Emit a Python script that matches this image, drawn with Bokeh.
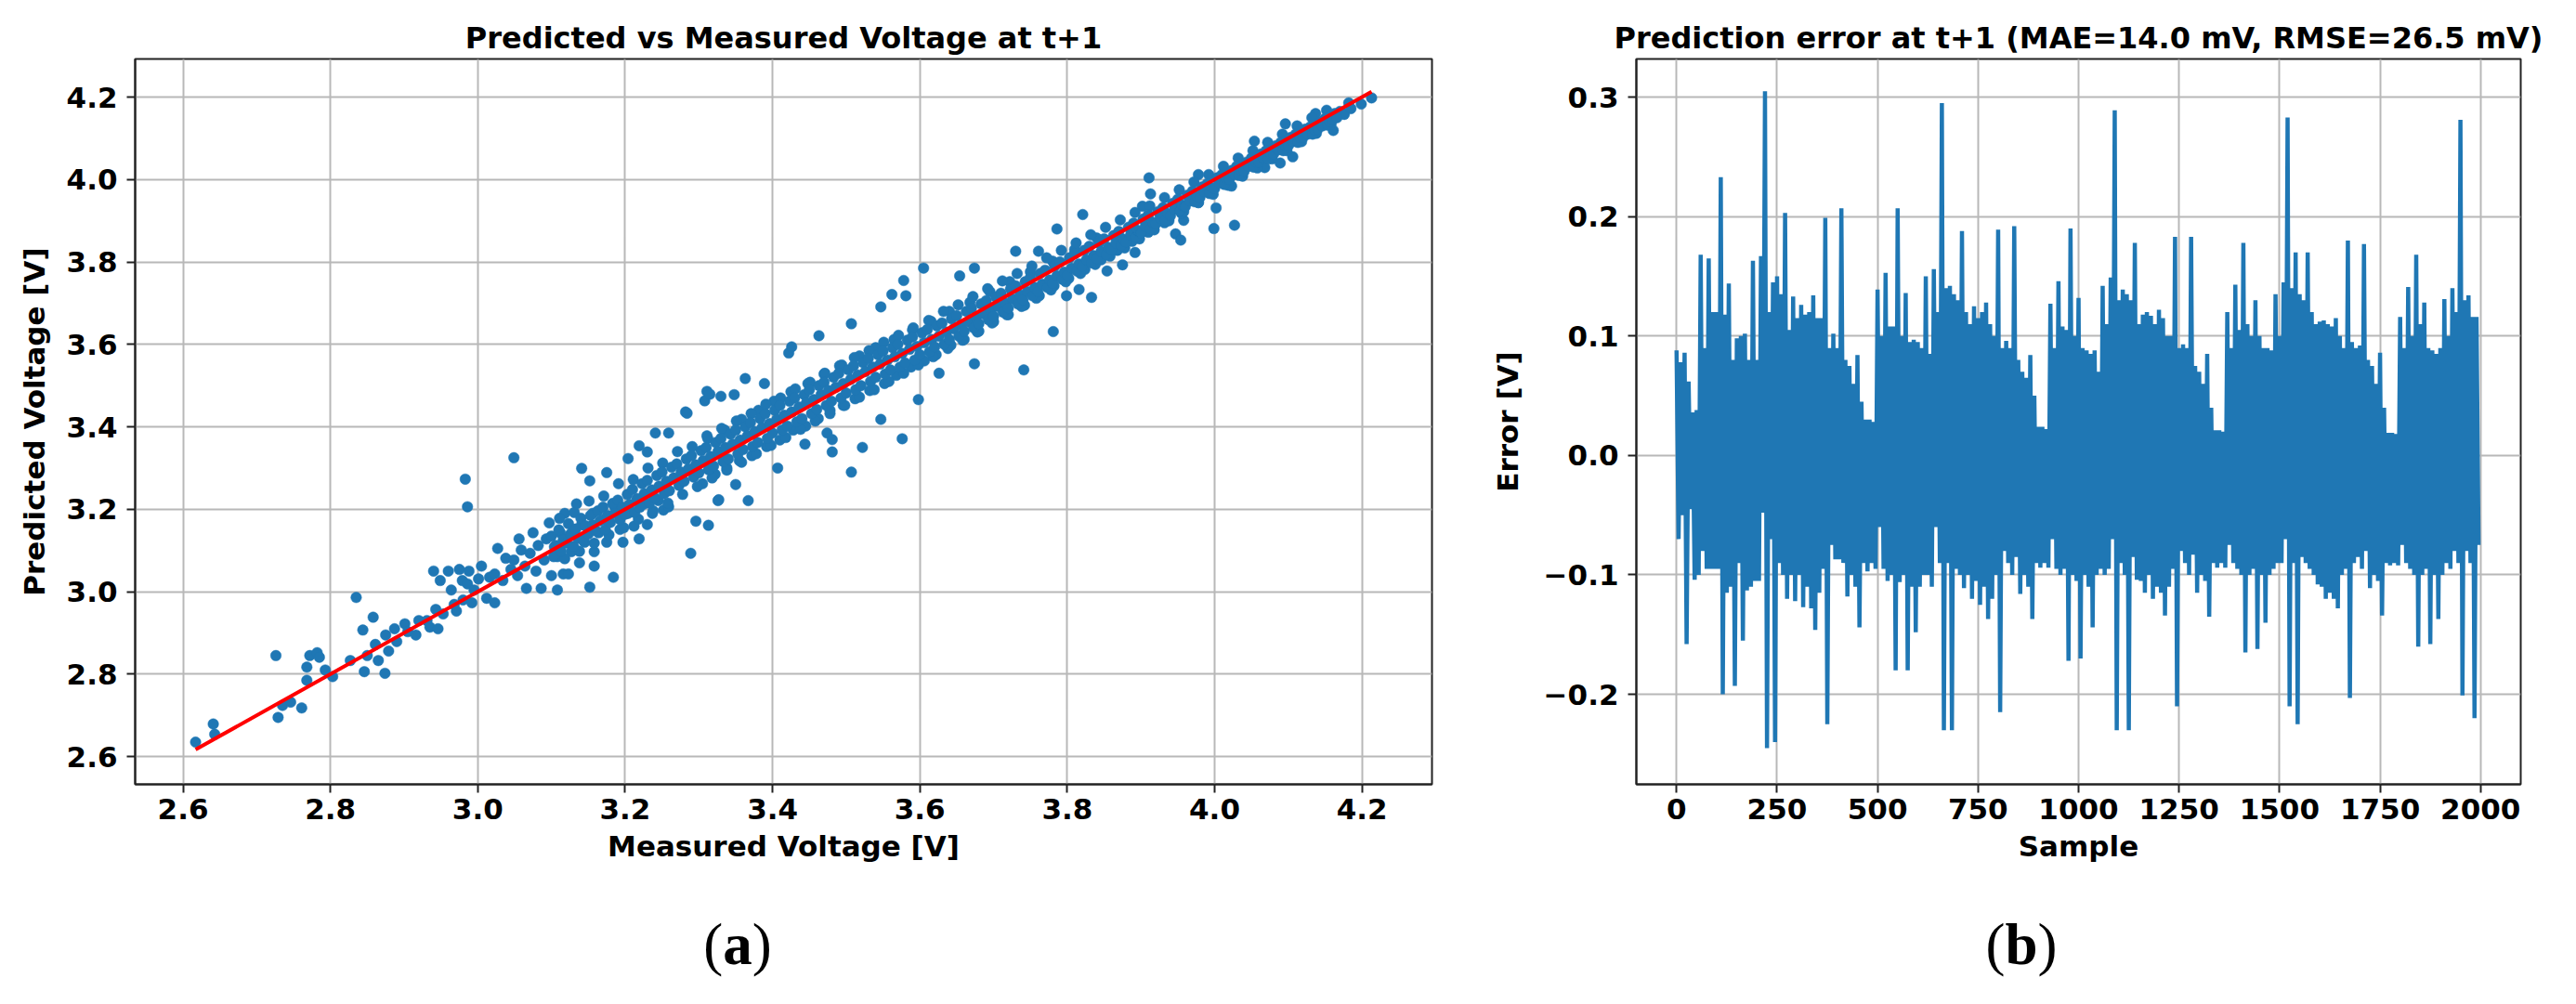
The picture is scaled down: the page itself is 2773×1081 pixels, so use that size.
from bokeh.plotting import figure
from bokeh.models import FixedTicker, CustomJSTickFormatter, Range1d, Div
from bokeh.layouts import row, column
from bokeh.embed import file_html
from bokeh.resources import INLINE

# ---------------- data: panel (a) ----------------
# sparse / outlying points (measured, predicted)
meas_sparse = [
    2.617, 2.641, 2.643, 2.726, 2.729, 2.735, 2.746, 2.761, 2.768, 2.768,
    2.772, 2.782, 2.785, 2.793, 2.803, 2.835, 2.827, 2.844, 2.846, 2.850,
    2.858, 2.861, 2.865, 2.874, 2.875, 2.879, 2.887, 2.890, 2.901, 2.905,
    2.916, 2.920, 2.931, 2.935, 2.943, 2.946, 2.940, 2.949, 2.953, 2.960,
    2.964, 2.968, 2.971, 2.975, 2.979, 2.980, 2.986, 2.988, 2.992, 2.995,
    3.001, 3.005, 3.012, 3.023, 3.016, 3.023, 3.027, 3.034, 3.038, 3.045,
    3.049, 3.054, 3.056, 3.059, 3.064, 3.066, 3.071, 3.075, 3.079, 3.082,
    3.086, 3.090, 3.093, 3.097, 3.100, 3.104, 3.108, 3.108, 3.112, 3.116,
    3.118, 3.119, 3.123, 3.127, 3.130, 3.134, 3.138, 3.141, 3.145, 3.152,
    3.156, 3.158, 3.158, 3.164, 3.171, 3.175, 3.184, 3.186, 3.193, 3.197,
    3.204, 3.212, 3.219, 3.226, 3.230, 3.237, 3.245, 3.252, 3.259, 3.289,
    3.296, 3.313, 3.326, 3.367, 2.986, 2.983, 3.049, 3.141, 3.152, 3.175,
    3.204, 3.219, 3.230, 3.241, 3.259, 3.282, 3.308, 3.311, 3.330, 3.348,
    3.363, 3.389, 3.422, 3.426, 3.463, 3.444, 3.481, 3.407, 3.474, 4.213,
    4.199, 4.182, 4.175, 4.161, 4.137, 4.096, 4.106, 4.089, 4.068, 4.054,
    4.023, 4.002, 4.027, 3.999, 3.978, 3.947, 3.954, 3.958, 3.911, 3.913,
    3.902, 3.906, 3.892, 3.875, 3.854, 3.821, 3.833, 3.816, 3.799, 3.781,
    3.786, 3.761, 3.730, 3.741, 3.674, 3.654, 3.605, 3.578, 3.581, 3.562,
    3.547, 3.507, 3.315, 3.284, 3.674, 3.626, 3.547, 3.576, 3.522, 3.507,
    3.481, 3.327, 3.350, 3.598, 4.170, 4.176, 4.185,
]
pred_sparse = [
    2.635, 2.679, 2.654, 2.845, 2.695, 2.724, 2.732, 2.718, 2.817, 2.785,
    2.845, 2.852, 2.841, 2.810, 2.794, 2.986, 2.833, 2.907, 2.806, 2.845,
    2.938, 2.872, 2.833, 2.802, 2.895, 2.856, 2.910, 2.879, 2.922, 2.903,
    2.895, 2.930, 2.930, 2.914, 2.957, 2.910, 3.050, 3.027, 2.946, 3.050,
    3.004, 2.969, 2.953, 3.054, 3.027, 2.980, 3.019, 3.050, 2.973, 3.004,
    3.031, 3.062, 2.984, 2.973, 3.035, 3.043, 3.105, 3.027, 3.081, 3.054,
    3.077, 3.039, 3.128, 3.101, 3.062, 3.008, 3.093, 3.143, 3.050, 3.112,
    3.008, 3.077, 3.128, 3.167, 3.039, 3.109, 3.004, 3.085, 3.143, 3.043,
    3.190, 3.128, 3.043, 3.097, 3.151, 3.213, 3.070, 3.163, 3.120, 3.011,
    3.190, 3.097, 3.062, 3.143, 3.175, 3.120, 3.035, 3.206, 3.151, 3.120,
    3.190, 3.159, 3.128, 3.213, 3.163, 3.190, 3.221, 3.198, 3.206, 3.093,
    3.171, 3.161, 3.221, 3.221, 3.206, 3.273, 3.325, 3.299, 3.269, 3.289,
    3.323, 3.354, 3.339, 3.385, 3.385, 3.436, 3.463, 3.486, 3.474, 3.478,
    3.517, 3.505, 3.579, 3.594, 3.621, 3.358, 3.339, 3.300, 3.385, 4.198,
    4.183, 4.186, 4.160, 4.119, 4.160, 4.135, 4.055, 4.040, 4.029, 4.093,
    3.984, 3.931, 3.889, 3.881, 4.012, 3.868, 3.853, 3.901, 4.004, 3.965,
    3.935, 3.879, 3.823, 3.793, 3.778, 3.915, 3.714, 3.733, 3.718, 3.631,
    3.880, 3.826, 3.826, 3.538, 3.785, 3.766, 3.785, 3.755, 3.718, 3.721,
    3.691, 3.650, 3.479, 3.433, 3.553, 3.530, 3.418, 3.371, 3.350, 3.290,
    3.369, 3.223, 3.260, 3.466, 4.165, 4.158, 4.172,
]
# edges of the dense band
meas_edge = [
    3.305, 3.322, 3.338, 3.355, 3.372, 3.392, 3.410, 3.428, 3.445, 3.462,
    3.478, 3.496, 3.512, 3.532, 3.552, 3.568, 3.588, 3.606, 3.622, 3.642,
    3.660, 3.680, 3.700, 3.720, 3.742, 3.762, 3.782, 3.802, 3.824, 3.846,
    3.868, 3.888, 3.910, 3.932, 3.955, 3.978,
    3.312, 3.335, 3.358, 3.381, 3.402, 3.425, 3.448, 3.470, 3.494, 3.518,
    3.540, 3.565, 3.590, 3.615, 3.640, 3.668, 3.695, 3.722, 3.750, 3.780,
    3.810, 3.840,
]
pred_edge = [
    3.262, 3.285, 3.300, 3.318, 3.330, 3.352, 3.368, 3.392, 3.402, 3.420,
    3.440, 3.452, 3.468, 3.488, 3.505, 3.525, 3.545, 3.560, 3.575, 3.598,
    3.612, 3.632, 3.655, 3.672, 3.695, 3.718, 3.742, 3.760, 3.782, 3.805,
    3.828, 3.850, 3.872, 3.895, 3.918, 3.944,
    3.372, 3.392, 3.418, 3.440, 3.462, 3.485, 3.505, 3.528, 3.550, 3.572,
    3.592, 3.612, 3.635, 3.656, 3.680, 3.702, 3.728, 3.752, 3.776, 3.802,
    3.830, 3.858,
]
# upper and lower rims of the band
meas_rim_up = [
    3.111, 3.131, 3.151, 3.171, 3.191, 3.211, 3.231, 3.251, 3.271, 3.291,
    3.311, 3.331, 3.351, 3.371, 3.391, 3.411, 3.431, 3.451, 3.471, 3.491,
    3.511, 3.531, 3.551, 3.571, 3.591, 3.612, 3.632, 3.652, 3.672, 3.692,
    3.712, 3.732, 3.752, 3.772, 3.792, 3.812, 3.832, 3.852, 3.872, 3.892,
    3.912, 3.932, 3.952, 3.972, 3.992, 4.012, 4.032, 4.052, 4.072, 4.092,
    4.112, 4.132, 4.152,
]
pred_rim_up = [
    3.178, 3.192, 3.220, 3.232, 3.262, 3.272, 3.300, 3.312, 3.340, 3.352,
    3.378, 3.396, 3.414, 3.432, 3.455, 3.470, 3.492, 3.508, 3.530, 3.548,
    3.568, 3.585, 3.605, 3.622, 3.640, 3.658, 3.680, 3.696, 3.716, 3.735,
    3.754, 3.772, 3.790, 3.810, 3.828, 3.846, 3.866, 3.884, 3.902, 3.920,
    3.936, 3.956, 3.975, 3.994, 4.012, 4.032, 4.052, 4.070, 4.090, 4.110,
    4.130, 4.150, 4.168,
]
meas_rim_down = [
    3.118, 3.138, 3.158, 3.178, 3.198, 3.218, 3.238, 3.258, 3.278, 3.298,
    3.318, 3.338, 3.358, 3.378, 3.398, 3.418, 3.438, 3.458, 3.478, 3.498,
    3.518, 3.538, 3.558, 3.578, 3.598, 3.618, 3.638, 3.658, 3.678, 3.698,
    3.718, 3.738, 3.758, 3.778, 3.798, 3.818, 3.838, 3.858, 3.878, 3.898,
    3.918, 3.938, 3.958, 3.978, 3.998, 4.018, 4.038, 4.058, 4.078, 4.098,
    4.118, 4.138, 4.158,
]
pred_rim_down = [
    3.080, 3.098, 3.118, 3.138, 3.155, 3.176, 3.196, 3.215, 3.236, 3.255,
    3.276, 3.295, 3.314, 3.335, 3.355, 3.374, 3.394, 3.414, 3.432, 3.452,
    3.472, 3.490, 3.510, 3.530, 3.550, 3.570, 3.590, 3.610, 3.630, 3.652,
    3.672, 3.692, 3.712, 3.732, 3.752, 3.772, 3.794, 3.814, 3.834, 3.856,
    3.878, 3.900, 3.922, 3.944, 3.964, 3.986, 4.008, 4.028, 4.050, 4.070,
    4.092, 4.112, 4.134,
]
# dense core of the cloud
meas_core = [
    3.100, 3.103, 3.106, 3.110, 3.113, 3.116, 3.120, 3.123, 3.126,
    3.130, 3.133, 3.136, 3.140, 3.143, 3.146, 3.150, 3.153, 3.156,
    3.160, 3.163, 3.166, 3.170, 3.173, 3.176, 3.180, 3.183, 3.186,
    3.190, 3.193, 3.196, 3.200, 3.203, 3.206, 3.210, 3.213, 3.216,
    3.220, 3.223, 3.226, 3.230, 3.233, 3.236, 3.240, 3.243, 3.246,
    3.250, 3.253, 3.256, 3.260, 3.263, 3.266, 3.270, 3.273, 3.276,
    3.280, 3.283, 3.286, 3.290, 3.293, 3.296, 3.300, 3.303, 3.306,
    3.310, 3.313, 3.316, 3.320, 3.323, 3.326, 3.330, 3.333, 3.336,
    3.340, 3.343, 3.346, 3.350, 3.353, 3.356, 3.360, 3.363, 3.366,
    3.370, 3.373, 3.376, 3.380, 3.383, 3.386, 3.390, 3.393, 3.396,
    3.400, 3.403, 3.406, 3.410, 3.413, 3.416, 3.420, 3.423, 3.426,
    3.430, 3.433, 3.436, 3.440, 3.443, 3.446, 3.450, 3.453, 3.456,
    3.460, 3.463, 3.466, 3.470, 3.473, 3.476, 3.480, 3.483, 3.486,
    3.490, 3.493, 3.496, 3.500, 3.503, 3.506, 3.510, 3.513, 3.516,
    3.520, 3.523, 3.526, 3.530, 3.533, 3.536, 3.540, 3.543, 3.546,
    3.550, 3.553, 3.556, 3.560, 3.563, 3.566, 3.570, 3.573, 3.576,
    3.580, 3.583, 3.586, 3.590, 3.593, 3.596, 3.600, 3.603, 3.606,
    3.610, 3.613, 3.616, 3.620, 3.623, 3.626, 3.630, 3.633, 3.636,
    3.640, 3.643, 3.646, 3.650, 3.653, 3.656, 3.660, 3.663, 3.666,
    3.670, 3.673, 3.676, 3.680, 3.683, 3.686, 3.690, 3.693, 3.696,
    3.700, 3.703, 3.706, 3.710, 3.713, 3.716, 3.720, 3.723, 3.726,
    3.730, 3.733, 3.736, 3.740, 3.743, 3.746, 3.750, 3.753, 3.756,
    3.760, 3.763, 3.766, 3.770, 3.773, 3.776, 3.780, 3.783, 3.786,
    3.790, 3.793, 3.796, 3.800, 3.803, 3.806, 3.810, 3.813, 3.816,
    3.820, 3.823, 3.826, 3.830, 3.833, 3.836, 3.840, 3.843, 3.846,
    3.850, 3.853, 3.856, 3.860, 3.863, 3.866, 3.870, 3.873, 3.876,
    3.880, 3.883, 3.886, 3.890, 3.893, 3.896, 3.900, 3.903, 3.906,
    3.910, 3.913, 3.916, 3.920, 3.923, 3.926, 3.930, 3.933, 3.936,
    3.940, 3.943, 3.946, 3.950, 3.953, 3.956, 3.960, 3.963, 3.966,
    3.970, 3.973, 3.976, 3.980, 3.983, 3.986, 3.990, 3.993, 3.996,
    4.000, 4.003, 4.006, 4.010, 4.013, 4.016, 4.020, 4.023, 4.026,
    4.030, 4.033, 4.036, 4.040, 4.043, 4.046, 4.050, 4.053, 4.056,
    4.060, 4.063, 4.066, 4.070, 4.073, 4.076, 4.080, 4.083, 4.086,
    4.090, 4.093, 4.096, 4.100, 4.103, 4.106, 4.110, 4.113, 4.116,
    4.120, 4.123, 4.126, 4.130, 4.133, 4.136, 4.140, 4.143, 4.146,
    4.150, 4.153, 4.156, 4.160, 4.163, 4.166,
]
pred_core = [
    3.135, 3.085, 3.112, 3.150, 3.098, 3.126, 3.118, 3.165, 3.140,
    3.110, 3.152, 3.130, 3.178, 3.125, 3.160, 3.140, 3.185, 3.162,
    3.148, 3.196, 3.172, 3.205, 3.150, 3.185, 3.168, 3.214, 3.190,
    3.222, 3.175, 3.205, 3.188, 3.236, 3.212, 3.248, 3.192, 3.226,
    3.205, 3.262, 3.238, 3.270, 3.215, 3.247, 3.228, 3.282, 3.256,
    3.290, 3.238, 3.268, 3.245, 3.302, 3.276, 3.310, 3.258, 3.290,
    3.268, 3.322, 3.298, 3.330, 3.278, 3.308, 3.288, 3.342, 3.318,
    3.350, 3.296, 3.328, 3.305, 3.362, 3.340, 3.372, 3.316, 3.350,
    3.322, 3.382, 3.358, 3.392, 3.334, 3.368, 3.345, 3.400, 3.378,
    3.410, 3.352, 3.388, 3.362, 3.420, 3.398, 3.432, 3.372, 3.408,
    3.385, 3.440, 3.418, 3.452, 3.392, 3.428, 3.402, 3.462, 3.436,
    3.470, 3.412, 3.448, 3.420, 3.478, 3.458, 3.490, 3.432, 3.466,
    3.442, 3.500, 3.478, 3.508, 3.452, 3.488, 3.462, 3.520, 3.496,
    3.530, 3.470, 3.505, 3.482, 3.538, 3.515, 3.548, 3.490, 3.526,
    3.500, 3.556, 3.534, 3.566, 3.510, 3.545, 3.520, 3.575, 3.552,
    3.584, 3.528, 3.562, 3.538, 3.592, 3.570, 3.600, 3.545, 3.578,
    3.555, 3.610, 3.588, 3.618, 3.562, 3.595, 3.575, 3.628, 3.604,
    3.636, 3.582, 3.612, 3.594, 3.645, 3.620, 3.652, 3.600, 3.630,
    3.612, 3.662, 3.638, 3.670, 3.620, 3.648, 3.632, 3.680, 3.655,
    3.688, 3.640, 3.665, 3.650, 3.698, 3.674, 3.706, 3.660, 3.683,
    3.668, 3.715, 3.692, 3.724, 3.678, 3.700, 3.688, 3.734, 3.710,
    3.742, 3.698, 3.720, 3.708, 3.752, 3.728, 3.762, 3.718, 3.738,
    3.728, 3.772, 3.746, 3.780, 3.738, 3.756, 3.748, 3.790, 3.766,
    3.800, 3.758, 3.775, 3.768, 3.810, 3.785, 3.820, 3.778, 3.795,
    3.790, 3.828, 3.805, 3.838, 3.798, 3.815, 3.808, 3.846, 3.825,
    3.856, 3.818, 3.835, 3.830, 3.864, 3.845, 3.874, 3.840, 3.855,
    3.848, 3.884, 3.865, 3.894, 3.860, 3.876, 3.870, 3.904, 3.886,
    3.914, 3.880, 3.896, 3.892, 3.922, 3.906, 3.932, 3.902, 3.918,
    3.912, 3.942, 3.928, 3.952, 3.924, 3.938, 3.934, 3.962, 3.948,
    3.972, 3.946, 3.960, 3.956, 3.982, 3.970, 3.990, 3.966, 3.980,
    3.978, 4.004, 3.992, 4.012, 3.988, 4.002, 4.000, 4.022, 4.012,
    4.032, 4.010, 4.022, 4.020, 4.042, 4.032, 4.052, 4.030, 4.042,
    4.042, 4.062, 4.052, 4.070, 4.050, 4.062, 4.062, 4.082, 4.072,
    4.090, 4.070, 4.082, 4.082, 4.102, 4.092, 4.110, 4.090, 4.102,
    4.102, 4.122, 4.110, 4.128, 4.110, 4.120, 4.122, 4.140, 4.130,
    4.148, 4.132, 4.140, 4.145, 4.160, 4.150,
]

# ---------------- data: panel (b) ----------------
err_v = [
    0.088, -0.07, 0.078, -0.05, 0.086, -0.158, 0.062, -0.045, 0.036, -0.104,
    0.038, -0.1, 0.168, -0.08, 0.09, -0.095, 0.165, -0.095, 0.12, -0.095,
    0.12, -0.095, 0.233, -0.2, 0.118, -0.115, 0.144, -0.11, 0.08, -0.193,
    0.098, -0.09, 0.1, -0.155, 0.102, -0.113, 0.08, -0.11, 0.163, -0.105,
    0.08, -0.105, 0.167, -0.048, 0.305, -0.245, 0.12, -0.07, 0.145, -0.24,
    0.15, -0.09, 0.135, -0.1, 0.203, -0.12, 0.105, -0.1, 0.133, -0.122,
    0.115, -0.1, 0.126, -0.127, 0.118, -0.11, 0.12, -0.128, 0.134, -0.146,
    0.115, -0.115, 0.115, -0.095, 0.199, -0.225, 0.09, -0.075, 0.102, -0.087,
    0.09, -0.087, 0.207, -0.09, 0.08, -0.118, 0.075, -0.1, 0.06, -0.11,
    0.084, -0.144, 0.045, -0.09, 0.03, -0.097, 0.03, -0.09, 0.028, -0.095,
    0.139, -0.06, 0.1, -0.095, 0.153, -0.105, 0.108, -0.1, 0.108, -0.18,
    0.207, -0.106, 0.1, -0.1, 0.136, -0.18, 0.095, -0.11, 0.097, -0.148,
    0.095, -0.11, 0.09, -0.1, 0.15, -0.1, 0.085, -0.11, 0.156, -0.06,
    0.12, -0.09, 0.295, -0.23, 0.14, -0.09, 0.142, -0.23, 0.135, -0.095,
    0.13, -0.1, 0.188, -0.111, 0.12, -0.1, 0.11, -0.12, 0.125, -0.105,
    0.115, -0.125, 0.12, -0.11, 0.128, -0.137, 0.11, -0.12, 0.1, -0.1,
    0.189, -0.215, 0.09, -0.08, 0.096, -0.09, 0.09, -0.1, 0.192, -0.085,
    0.08, -0.116, 0.07, -0.1, 0.065, -0.11, 0.084, -0.137, 0.05, -0.09,
    0.024, -0.094, 0.024, -0.09, 0.022, -0.094, 0.127, -0.07, 0.09, -0.095,
    0.146, -0.1, 0.108, -0.095, 0.105, -0.172, 0.19, -0.1, 0.1, -0.105,
    0.132, -0.17, 0.09, -0.1, 0.088, -0.11, 0.085, -0.144, 0.088, -0.1,
    0.07, -0.095, 0.142, -0.1, 0.11, -0.095, 0.149, -0.07, 0.289, -0.23,
    0.13, -0.09, 0.139, -0.1, 0.135, -0.23, 0.13, -0.085, 0.178, -0.104,
    0.11, -0.105, 0.118, -0.115, 0.12, -0.1, 0.117, -0.12, 0.11, -0.11,
    0.122, -0.115, 0.115, -0.134, 0.1, -0.11, 0.1, -0.095, 0.183, -0.21,
    0.09, -0.08, 0.093, -0.09, 0.09, -0.1, 0.183, -0.083, 0.075, -0.115,
    0.07, -0.1, 0.06, -0.105, 0.085, -0.135, 0.04, -0.09, 0.021, -0.094,
    0.021, -0.09, 0.02, -0.094, 0.12, -0.075, 0.09, -0.09, 0.143, -0.095,
    0.105, -0.1, 0.178, -0.165, 0.11, -0.1, 0.1, -0.095, 0.13, -0.162,
    0.1, -0.1, 0.09, -0.14, 0.09, -0.1, 0.088, -0.095, 0.135, -0.09,
    0.1, -0.09, 0.145, -0.07, 0.283, -0.21, 0.14, -0.09, 0.17, -0.225,
    0.135, -0.085, 0.13, -0.09, 0.17, -0.095, 0.12, -0.1, 0.11, -0.108,
    0.112, -0.11, 0.113, -0.12, 0.11, -0.115, 0.108, -0.12, 0.115, -0.128,
    0.1, -0.1, 0.09, -0.095, 0.18, -0.203, 0.095, -0.09, 0.09, -0.085,
    0.092, -0.095, 0.177, -0.08, 0.08, -0.111, 0.075, -0.1, 0.06, -0.105,
    0.086, -0.134, 0.04, -0.09, 0.019, -0.092, 0.019, -0.09, 0.018, -0.092,
    0.116, -0.075, 0.09, -0.09, 0.141, -0.095, 0.1, -0.1, 0.168, -0.16,
    0.11, -0.1, 0.128, -0.095, 0.09, -0.158, 0.088, -0.1, 0.085, -0.137,
    0.09, -0.1, 0.131, -0.09, 0.1, -0.095, 0.14, -0.08, 0.12, -0.09,
    0.281, -0.201, 0.13, -0.08, 0.134, -0.09, 0.116, -0.22, 0.116, -0.075,
]
err_sample = list(range(0, 5 * len(err_v), 5))

volt_ticks = [2.6, 2.8, 3.0, 3.2, 3.4, 3.6, 3.8, 4.0, 4.2]
sample_ticks = [0, 250, 500, 750, 1000, 1250, 1500, 1750, 2000]
err_ticks = [-0.2, -0.1, 0.0, 0.1, 0.2, 0.3]

title_a = "Predicted vs Measured Voltage at t+1"
title_b = "Prediction error at t+1 (MAE=14.0 mV, RMSE=26.5 mV)"

# ---------------- styling ----------------
FONT = "DejaVu Sans"
BLUE = "#1f77b4"
DARK = "#222222"


def style(p, ylab_standoff):
    p.title.text_font = FONT
    p.title.text_font_size = "32px"
    p.title.text_font_style = "bold"
    p.title.text_color = "black"
    p.title.align = "center"
    p.title.standoff = 8
    for ax in (p.xaxis[0], p.yaxis[0]):
        ax.major_label_text_font = FONT
        ax.major_label_text_font_size = "31px"
        ax.major_label_text_font_style = "bold"
        ax.major_label_text_color = "black"
        ax.axis_label_text_font = FONT
        ax.axis_label_text_font_size = "31px"
        ax.axis_label_text_font_style = "bold"
        ax.axis_label_text_color = "black"
        ax.major_tick_in = 0
        ax.major_tick_out = 9
        ax.major_tick_line_width = 2
        ax.major_tick_line_color = DARK
        ax.minor_tick_line_color = None
        ax.axis_line_width = 2
        ax.axis_line_color = DARK
    p.xaxis[0].major_label_standoff = 6
    p.xaxis[0].axis_label_standoff = 8
    p.yaxis[0].major_label_standoff = 10
    p.yaxis[0].axis_label_standoff = ylab_standoff
    p.grid.grid_line_color = "#b8b8b8"
    p.grid.grid_line_width = 2
    p.outline_line_color = DARK
    p.outline_line_width = 2
    p.background_fill_color = "white"
    p.border_fill_color = "white"


# ---------------- panel (a) ----------------
p1 = figure(frame_width=1396, frame_height=781,
            min_border_left=145, min_border_right=37,
            min_border_top=63, min_border_bottom=110,
            x_range=Range1d(2.535, 4.295), y_range=Range1d(2.5326, 4.2924),
            title=title_a, toolbar_location=None, output_backend="svg")
p1.xaxis.axis_label = "Measured Voltage [V]"
p1.yaxis.axis_label = "Predicted Voltage [V]"
p1.xaxis.ticker = FixedTicker(ticks=volt_ticks)
p1.yaxis.ticker = FixedTicker(ticks=volt_ticks)
p1.xaxis.formatter = CustomJSTickFormatter(code="return tick.toFixed(1);")
p1.yaxis.formatter = CustomJSTickFormatter(code="return tick.toFixed(1);")
style(p1, 14)

all_meas = meas_sparse + meas_edge + meas_rim_up + meas_rim_down + meas_core
all_pred = pred_sparse + pred_edge + pred_rim_up + pred_rim_down + pred_core
p1.scatter(all_meas, all_pred, size=11.5, fill_color=BLUE, line_color=BLUE, line_width=0.5)
lo, hi = min(all_meas), max(all_meas)
p1.line([lo, hi], [lo, hi], line_color="red", line_width=4)

# ---------------- panel (b) ----------------
p2 = figure(frame_width=952, frame_height=781,
            min_border_left=183, min_border_right=31,
            min_border_top=63, min_border_bottom=110,
            x_range=Range1d(-100, 2099.95), y_range=Range1d(-0.2754, 0.332),
            title=title_b, toolbar_location=None, output_backend="svg")
p2.xaxis.axis_label = "Sample"
p2.yaxis.axis_label = "Error [V]"
p2.xaxis.ticker = FixedTicker(ticks=sample_ticks)
p2.yaxis.ticker = FixedTicker(ticks=err_ticks)
p2.yaxis.formatter = CustomJSTickFormatter(code="""
if (Math.abs(tick) < 1e-9) { return '0.0'; }
return (tick < 0 ? '\\u2212' : '') + Math.abs(tick).toFixed(1);
""")
style(p2, 18)
p2.line(err_sample, err_v, line_color=BLUE, line_width=4.5)

# ---------------- panel labels ----------------
def panel_label(letter, w):
    html = ('<div style="width:%dpx;text-align:center;font-family:\'Liberation Serif\',serif;'
            'font-size:63px;line-height:63px;padding-top:27px;color:black;">(<b>%s</b>)</div>'
            % (w, letter))
    return Div(text=html, width=w, height=100)

lab_a = panel_label("a", 1578)
lab_b = panel_label("b", 1166)

layout = column(row(p1, p2), row(lab_a, lab_b))

with open("out.html", "w", encoding="utf-8") as f:
    f.write(file_html(layout, INLINE))
